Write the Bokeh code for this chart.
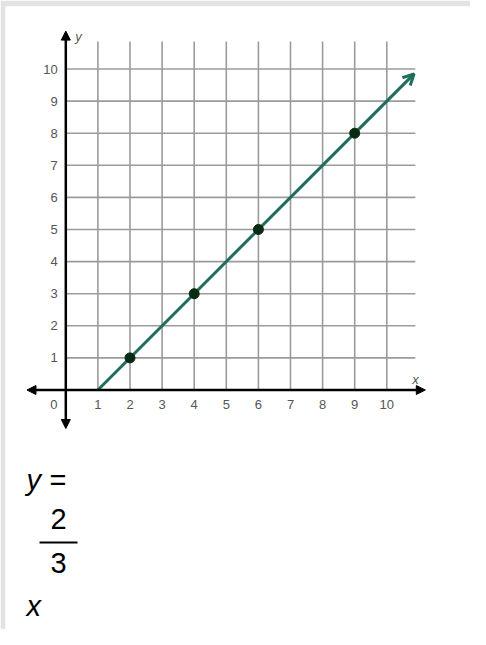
from bokeh.plotting import figure
from bokeh.models import Range1d, Label, Arrow, NormalHead, OpenHead, BoxAnnotation
from bokeh.embed import file_html
from bokeh.resources import INLINE
from bokeh.core.properties import value

# ---------------- data ----------------
x_ticks = [1, 2, 3, 4, 5, 6, 7, 8, 9, 10]
y_ticks = [1, 2, 3, 4, 5, 6, 7, 8, 9, 10]
x_tick_labels = ["1", "2", "3", "4", "5", "6", "7", "8", "9", "10"]
y_tick_labels = ["1", "2", "3", "4", "5", "6", "7", "8", "9", "10"]
origin_label = "0"
point_x = [2, 4, 6, 9]
point_y = [1, 3, 5, 8]
line_x = [1, 10.85]
line_y = [0, 9.85]
grid_x_max = 10.89
grid_y_max = 10.86
x_axis_span = [-1.21, 11.2]
y_axis_span = [-1.2, 11.18]
eq_lhs = "y"
eq_sign = "="
eq_num = "2"
eq_den = "3"
eq_var = "x"

# ---------------- layout helpers (picture pixels -> data) ----------------
X0, Y0, U = 65.3, 389.5, 32.1   # pixel of origin, px per unit
BL, BT = 5, 6                   # grey border widths (left, top)
W, H = 470, 629
FL, FR, FT, FB = BL, W, BT, H   # frame edges in pixels


def px2x(px):
    return (px - X0) / U


def py2y(py):
    return (Y0 - py) / U


p = figure(width=W, height=H, output_backend="svg", toolbar_location=None,
           x_axis_type=None, y_axis_type=None,
           x_range=Range1d(px2x(FL), px2x(FR)),
           y_range=Range1d(py2y(FB), py2y(FT)),
           min_border_left=BL, min_border_top=BT, min_border_right=0, min_border_bottom=0)
p.border_fill_color = "#e3e3e3"
p.background_fill_color = "white"
p.outline_line_color = None

FONT_NAME = "Liberation Sans"
FONT = value(FONT_NAME)
GRID = "#9b9b9b"
TEAL = "#1d6e5d"
DOT = "#0b2a14"
TICK = "#555555"

# grid
p.segment(x0=x_ticks, y0=[0] * len(x_ticks), x1=x_ticks, y1=[grid_y_max] * len(x_ticks),
          line_color=GRID, line_width=1.6)
p.segment(x0=[0] * len(y_ticks), y0=y_ticks, x1=[grid_x_max] * len(y_ticks), y1=y_ticks,
          line_color=GRID, line_width=1.6)

# axes with arrows
for (xs, ys, xe, ye) in [(x_axis_span[0], 0, x_axis_span[1], 0),
                         (0, y_axis_span[0], 0, y_axis_span[1])]:
    p.add_layout(Arrow(x_start=xs, y_start=ys, x_end=xe, y_end=ye,
                       line_color="black", line_width=2.5,
                       start=NormalHead(size=9, fill_color="black", line_color="black", line_width=1),
                       end=NormalHead(size=9, fill_color="black", line_color="black", line_width=1)))

# line with arrow
p.line(line_x, line_y, line_color=TEAL, line_width=3)
p.add_layout(Arrow(x_start=line_x[0], y_start=line_y[0], x_end=line_x[1], y_end=line_y[1],
                   line_color=TEAL, line_width=3, line_alpha=0,
                   end=OpenHead(size=11, line_color=TEAL, line_width=3)))

# points
p.scatter(point_x, point_y, size=10, fill_color=DOT, line_color=DOT)

# tick labels
p.text(x=x_ticks, y=[0] * len(x_ticks), text=x_tick_labels, x_offset=0, y_offset=14,
       text_align="center", text_baseline="middle", text_font=FONT,
       text_font_size="13px", text_color=TICK)
p.text(x=[0] * len(y_ticks), y=y_ticks, text=y_tick_labels, x_offset=-8, y_offset=0,
       text_align="right", text_baseline="middle", text_font=FONT,
       text_font_size="13px", text_color=TICK)
p.text(x=[0], y=[0], text=[origin_label], x_offset=-12, y_offset=14,
       text_align="center", text_baseline="middle", text_font=FONT,
       text_font_size="13px", text_color=TICK)

# axis names
p.add_layout(Label(x=px2x(78), y=py2y(36), text="y", text_font=FONT_NAME, text_font_style="italic",
                   text_font_size="13px", text_color=TICK, text_align="center", text_baseline="middle"))
p.add_layout(Label(x=px2x(415), y=py2y(379), text="x", text_font=FONT_NAME, text_font_style="italic",
                   text_font_size="13px", text_color=TICK, text_align="center", text_baseline="middle"))

# equation below the chart
EQ = "29px"
p.add_layout(Label(x=px2x(26), y=py2y(479), text=eq_lhs, text_font=FONT_NAME, text_font_style="italic",
                   text_font_size=EQ, text_color="black", text_align="left", text_baseline="middle"))
p.add_layout(Label(x=px2x(49), y=py2y(479), text=eq_sign, text_font=FONT_NAME,
                   text_font_size=EQ, text_color="black", text_align="left", text_baseline="middle"))
p.add_layout(Label(x=px2x(58), y=py2y(518), text=eq_num, text_font=FONT_NAME,
                   text_font_size=EQ, text_color="black", text_align="center", text_baseline="middle"))
p.add_layout(BoxAnnotation(left=px2x(39), right=px2x(77), top=py2y(541), bottom=py2y(543),
                           fill_color="black", fill_alpha=1, line_color=None))
p.add_layout(Label(x=px2x(58), y=py2y(562.5), text=eq_den, text_font=FONT_NAME,
                   text_font_size=EQ, text_color="black", text_align="center", text_baseline="middle"))
p.add_layout(Label(x=px2x(26), y=py2y(605), text=eq_var, text_font=FONT_NAME, text_font_style="italic",
                   text_font_size=EQ, text_color="black", text_align="left", text_baseline="middle"))

open("out.html", "w").write(file_html(p, INLINE))
